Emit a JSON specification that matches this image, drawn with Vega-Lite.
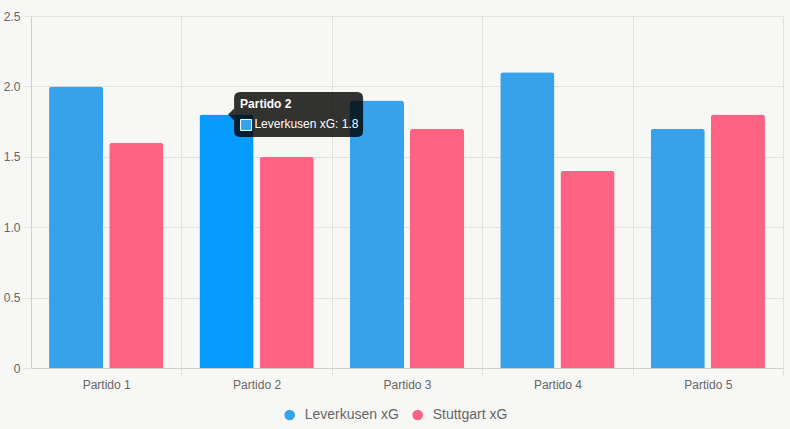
{
  "$schema": "https://vega.github.io/schema/vega-lite/v6.json",
  "background": "#f7f7f5",
  "autosize": {"type": "none"},
  "padding": {"left": 31, "top": 16, "right": 7, "bottom": 61},
  "width": 752,
  "height": 352,
  "config": {
    "view": {"stroke": null},
    "font": "Liberation Sans",
    "axis": {
      "labelFont": "Liberation Sans",
      "labelFontSize": 12,
      "labelColor": "#666666",
      "gridColor": "#e2e2e0",
      "tickColor": "#e2e2e0",
      "domainColor": "#cfcfcd",
      "tickSize": 8,
      "labelPadding": 3,
      "title": null
    },
    "legend": {
      "labelFont": "Liberation Sans"
    }
  },
  "data": {
    "values": [
      {"partido": "Partido 1", "equipo": "Leverkusen xG", "xg": 2.0},
      {"partido": "Partido 1", "equipo": "Stuttgart xG", "xg": 1.6},
      {"partido": "Partido 2", "equipo": "Leverkusen xG", "xg": 1.8},
      {"partido": "Partido 2", "equipo": "Stuttgart xG", "xg": 1.5},
      {"partido": "Partido 3", "equipo": "Leverkusen xG", "xg": 1.9},
      {"partido": "Partido 3", "equipo": "Stuttgart xG", "xg": 1.7},
      {"partido": "Partido 4", "equipo": "Leverkusen xG", "xg": 2.1},
      {"partido": "Partido 4", "equipo": "Stuttgart xG", "xg": 1.4},
      {"partido": "Partido 5", "equipo": "Leverkusen xG", "xg": 1.7},
      {"partido": "Partido 5", "equipo": "Stuttgart xG", "xg": 1.8}
    ]
  },
  "layer": [
    {
      "mark": {"type": "bar", "cornerRadiusTopLeft": 3, "cornerRadiusTopRight": 3},
      "encoding": {
        "x": {
          "field": "partido",
          "type": "nominal",
          "scale": {"paddingInner": 0, "paddingOuter": 0},
          "axis": {
            "labelAngle": 0,
            "tickBand": "extent",
            "grid": true,
            "gridOpacity": {"condition": {"test": "datum.index < 0", "value": 0}, "value": 1},
            "tickOpacity": {"condition": {"test": "datum.index < 0", "value": 0}, "value": 1}
          }
        },
        "xOffset": {
          "field": "equipo",
          "type": "nominal",
          "scale": {"paddingInner": 0.1, "paddingOuter": 0.3}
        },
        "y": {
          "field": "xg",
          "type": "quantitative",
          "scale": {"domain": [0, 2.5], "nice": false},
          "axis": {
            "values": [0, 0.5, 1, 1.5, 2, 2.5],
            "labelExpr": "datum.value === 0 ? '0' : format(datum.value, '.1f')",
            "grid": true
          }
        },
        "color": {
          "condition": {"test": "datum.partido === 'Partido 2' && datum.equipo === 'Leverkusen xG'", "value": "#059BFF"},
          "field": "equipo",
          "type": "nominal",
          "scale": {"domain": ["Leverkusen xG", "Stuttgart xG"], "range": ["#36A2EB", "#FF6384"]},
          "legend": {
            "title": null,
            "orient": "none",
            "legendX": 251.7,
            "legendY": 392,
            "direction": "horizontal",
            "symbolType": "circle",
            "symbolSize": 113,
            "symbolStrokeWidth": 0,
            "labelFontSize": 14,
            "labelColor": "#666666",
            "labelOffset": 8,
            "columnPadding": 11,
            "padding": 0
          }
        }
      }
    },
    {
      "data": {"values": [{"partido": "Partido 2", "xg": 1.8, "titulo": "Partido 2", "linea": "Leverkusen xG: 1.8"}]},
      "layer": [
        {
          "mark": {"type": "point", "shape": "M-0.907,-0.3488L0.907,-0.3488Q1,-0.3488 1,-0.2558L1,0.2558Q1,0.3488 0.907,0.3488L-0.907,0.3488Q-1,0.3488 -1,0.2558L-1,-0.2558Q-1,-0.3488 -0.907,-0.3488Z", "size": 16641, "filled": true, "color": "#000000", "opacity": 0.8, "strokeWidth": 0, "xOffset": 42},
          "encoding": {
            "x": {"field": "partido", "type": "nominal"},
            "y": {"field": "xg", "type": "quantitative"}
          }
        },
        {
          "mark": {"type": "point", "shape": "M-0.5,0L0.5,-1L0.5,1Z", "size": 144, "filled": true, "color": "#000000", "opacity": 0.8, "strokeWidth": 0, "xOffset": -25.5},
          "encoding": {
            "x": {"field": "partido", "type": "nominal"},
            "y": {"field": "xg", "type": "quantitative"}
          }
        },
        {
          "mark": {"type": "point", "shape": "square", "size": 121, "filled": true, "fill": "#36A2EB", "stroke": "#ffffff", "strokeWidth": 1, "opacity": 1, "xOffset": -10.5, "yOffset": 10.4},
          "encoding": {
            "x": {"field": "partido", "type": "nominal"},
            "y": {"field": "xg", "type": "quantitative"}
          }
        },
        {
          "mark": {"type": "text", "align": "left", "baseline": "alphabetic", "dx": -16.5, "dy": -6.6, "fontSize": 12, "fontWeight": "bold", "color": "#ffffff", "font": "Liberation Sans"},
          "encoding": {
            "x": {"field": "partido", "type": "nominal"},
            "y": {"field": "xg", "type": "quantitative"},
            "text": {"field": "titulo"}
          }
        },
        {
          "mark": {"type": "text", "align": "left", "baseline": "alphabetic", "dx": -2.2, "dy": 13.4, "fontSize": 12, "color": "#ffffff", "font": "Liberation Sans"},
          "encoding": {
            "x": {"field": "partido", "type": "nominal"},
            "y": {"field": "xg", "type": "quantitative"},
            "text": {"field": "linea"}
          }
        }
      ]
    }
  ]
}
